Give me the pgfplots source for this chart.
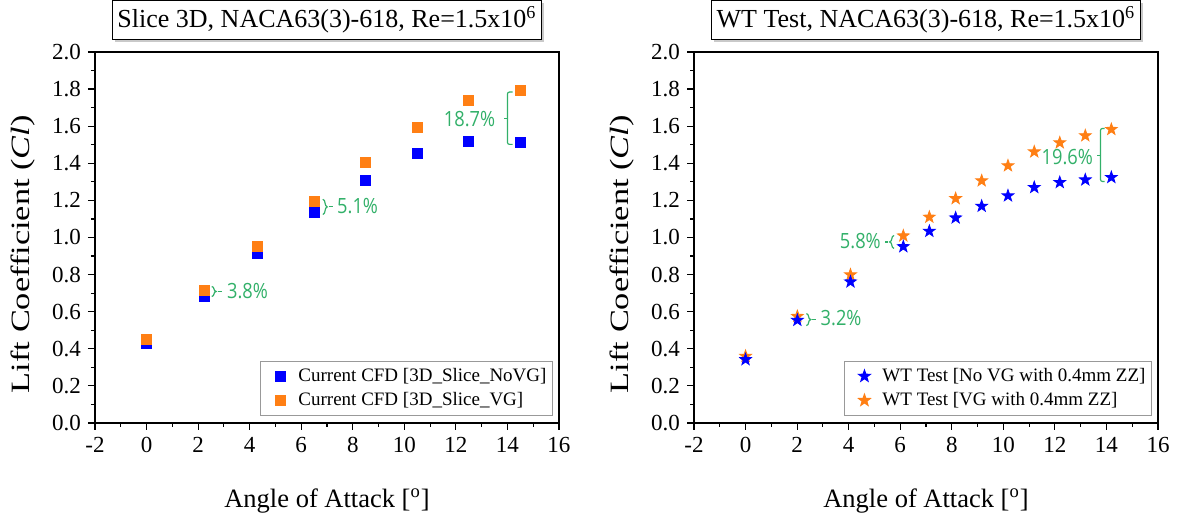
\documentclass[border=0pt]{standalone}
\usepackage{fontspec}
\setmainfont{Liberation Serif}
\newfontfamily\annfont[FakeStretch=0.87]{Open Sans}
\usepackage{pgfplots}
\pgfplotsset{compat=1.18}
\usetikzlibrary{decorations.pathreplacing,shadows}

\definecolor{cblue}{RGB}{0,0,255}
\definecolor{corange}{RGB}{255,127,20}
\definecolor{cgreen}{RGB}{50,176,105}

\pgfdeclareplotmark{fstar}{%
  \pgfpathmoveto{\pgfpointpolar{90}{\pgfplotmarksize}}%
  \pgfpathlineto{\pgfpointpolar{126}{0.4\pgfplotmarksize}}%
  \pgfpathlineto{\pgfpointpolar{162}{\pgfplotmarksize}}%
  \pgfpathlineto{\pgfpointpolar{198}{0.4\pgfplotmarksize}}%
  \pgfpathlineto{\pgfpointpolar{234}{\pgfplotmarksize}}%
  \pgfpathlineto{\pgfpointpolar{270}{0.4\pgfplotmarksize}}%
  \pgfpathlineto{\pgfpointpolar{306}{\pgfplotmarksize}}%
  \pgfpathlineto{\pgfpointpolar{342}{0.4\pgfplotmarksize}}%
  \pgfpathlineto{\pgfpointpolar{18}{\pgfplotmarksize}}%
  \pgfpathlineto{\pgfpointpolar{54}{0.4\pgfplotmarksize}}%
  \pgfpathclose
  \pgfusepathqfillstroke}

\tikzset{
  annot/.style={font=\annfont\fontsize{10.5}{12}\selectfont, text=cgreen, inner sep=0pt},
  brk/.style={cgreen, line width=0.6pt},
}

\pgfplotsset{
  myaxis/.style={
    scale only axis, width=232pt, height=185.5pt,
    xmin=-2, xmax=16, ymin=0, ymax=2,
    xtick={-2,0,2,4,6,8,10,12,14,16},
    ytick={0,0.2,0.4,0.6,0.8,1.0,1.2,1.4,1.6,1.8,2.0},
    minor x tick num=1, minor y tick num=1,
    tick align=outside, tick pos=left,
    axis line style={line width=0.75pt},
    major tick length=3.5pt, minor tick length=2pt,
    every tick/.style={black, line width=0.6pt},
    /pgf/number format/assume math mode=true,
    xticklabel={\pgfmathprintnumber{\tick}},
    yticklabel={\pgfmathprintnumber[fixed, fixed zerofill, precision=1]{\tick}},
    tick label style={font=\rmfamily\fontsize{11.5}{13}\selectfont},
    ylabel={\scalebox{1.3}[1]{Lift Coefficient (\textit{Cl})}},
    ylabel style={at={(axis description cs:-0.155,0.455)}, anchor=center, font=\rmfamily\fontsize{13.2}{15}\selectfont},
    xlabel={Angle of Attack [\textsuperscript{o}]},
    xlabel style={at={(axis description cs:0.5,0)}, anchor=base, yshift=-42.5pt, font=\rmfamily\fontsize{13.25}{15}\selectfont},
    title style={at={(axis description cs:0.5,1)}, anchor=center, yshift=10pt, draw=black, fill=white, line width=0.5pt, minimum height=17.5pt, inner xsep=2.5pt, font=\rmfamily\fontsize{13}{15}\selectfont, drop shadow={shadow xshift=1.2pt, shadow yshift=-1.2pt, fill=gray!60, opacity=0.7}},
    legend style={at={(axis description cs:1,0)}, anchor=south east, xshift=-3pt, yshift=3.5pt, draw=gray!80, line width=0.5pt, font=\rmfamily\fontsize{9.5}{11}\selectfont, cells={anchor=west}, row sep=0pt, inner xsep=1pt, inner ysep=1.5pt},
    legend image code/.code={\path[draw=none,fill=none] (-9pt,-2pt) rectangle (7pt,2pt); \draw[##1] plot coordinates {(0pt,0pt)};},
  },
}

\begin{document}
\begin{tikzpicture}
\path[use as bounding box] (0,0) rectangle (590pt,256.5pt);

\begin{axis}[myaxis, at={(47.5pt,45pt)}, anchor=south west,
  title={Slice 3D, NACA63(3)-618, Re=1.5x10\textsuperscript{6}}]
\addplot[only marks, mark=square*, mark size=2.5pt, color=cblue] coordinates {
(0,0.43) (2.23,0.682) (4.31,0.914) (6.5,1.136) (8.49,1.307) (10.5,1.456) (12.49,1.516) (14.5,1.510)};
\addlegendentry{Current CFD [3D\_Slice\_NoVG]}
\addplot[only marks, mark=square*, mark size=2.5pt, color=corange] coordinates {
(0,0.452) (2.23,0.716) (4.31,0.954) (6.5,1.193) (8.49,1.404) (10.5,1.593) (12.49,1.739) (14.5,1.794)};
\addlegendentry{Current CFD [3D\_Slice\_VG]}
\node[annot, anchor=center] at (axis cs:12.53,1.64) {18.7\%};
\draw[brk, rounded corners=1pt] (axis cs:14.2,1.784) -- (axis cs:14.0,1.784) -- (axis cs:14.0,1.502) -- (axis cs:14.2,1.502);
\draw[brk] (axis cs:14.0,1.642) -- (axis cs:13.85,1.642);
\draw[brk, decorate, decoration={brace, amplitude=2.2pt}] (axis cs:6.84,1.206) -- (axis cs:6.84,1.124);
\draw[brk] (axis cs:7.07,1.165) -- (axis cs:7.22,1.165);
\node[annot, anchor=west] at (axis cs:7.38,1.167) {5.1\%};
\draw[brk, decorate, decoration={brace, amplitude=2.2pt}] (axis cs:2.53,0.736) -- (axis cs:2.53,0.682);
\draw[brk] (axis cs:2.76,0.709) -- (axis cs:2.93,0.709);
\node[annot, anchor=west] at (axis cs:3.11,0.709) {3.8\%};
\end{axis}

\begin{axis}[myaxis, at={(347pt,45pt)}, anchor=south west, reverse legend,
  title={WT Test, NACA63(3)-618, Re=1.5x10\textsuperscript{6}}]
\addplot[only marks, mark=fstar, mark size=3.1pt, color=corange] coordinates {
(0,0.36) (2.01,0.575) (4.07,0.799) (6.12,1.009) (7.13,1.11) (8.15,1.21) (9.16,1.306) (10.18,1.387) (11.2,1.462) (12.19,1.511) (13.18,1.549) (14.19,1.583)};
\addlegendentry{WT Test [VG with 0.4mm ZZ]}
\addplot[only marks, mark=fstar, mark size=3.1pt, color=cblue] coordinates {
(0,0.342) (2.01,0.554) (4.07,0.761) (6.12,0.951) (7.13,1.034) (8.15,1.106) (9.16,1.169) (10.18,1.225) (11.2,1.27) (12.19,1.297) (13.18,1.311) (14.19,1.324)};
\addlegendentry{WT Test [No VG with 0.4mm ZZ]}
\node[annot, anchor=center] at (axis cs:12.48,1.435) {19.6\%};
\draw[brk, rounded corners=1pt] (axis cs:13.93,1.588) -- (axis cs:13.77,1.588) -- (axis cs:13.77,1.302) -- (axis cs:13.93,1.302);
\draw[brk] (axis cs:13.77,1.443) -- (axis cs:13.64,1.443);
\draw[brk, decorate, decoration={brace, amplitude=2.2pt}] (axis cs:5.76,0.941) -- (axis cs:5.76,1.011);
\draw[brk] (axis cs:5.53,0.976) -- (axis cs:5.40,0.976);
\node[annot, anchor=east] at (axis cs:5.26,0.98) {5.8\%};
\draw[brk, decorate, decoration={brace, amplitude=2.2pt}] (axis cs:2.36,0.59) -- (axis cs:2.36,0.525);
\draw[brk] (axis cs:2.59,0.558) -- (axis cs:2.74,0.558);
\node[annot, anchor=west] at (axis cs:2.9,0.568) {3.2\%};
\end{axis}
\end{tikzpicture}
\end{document}
